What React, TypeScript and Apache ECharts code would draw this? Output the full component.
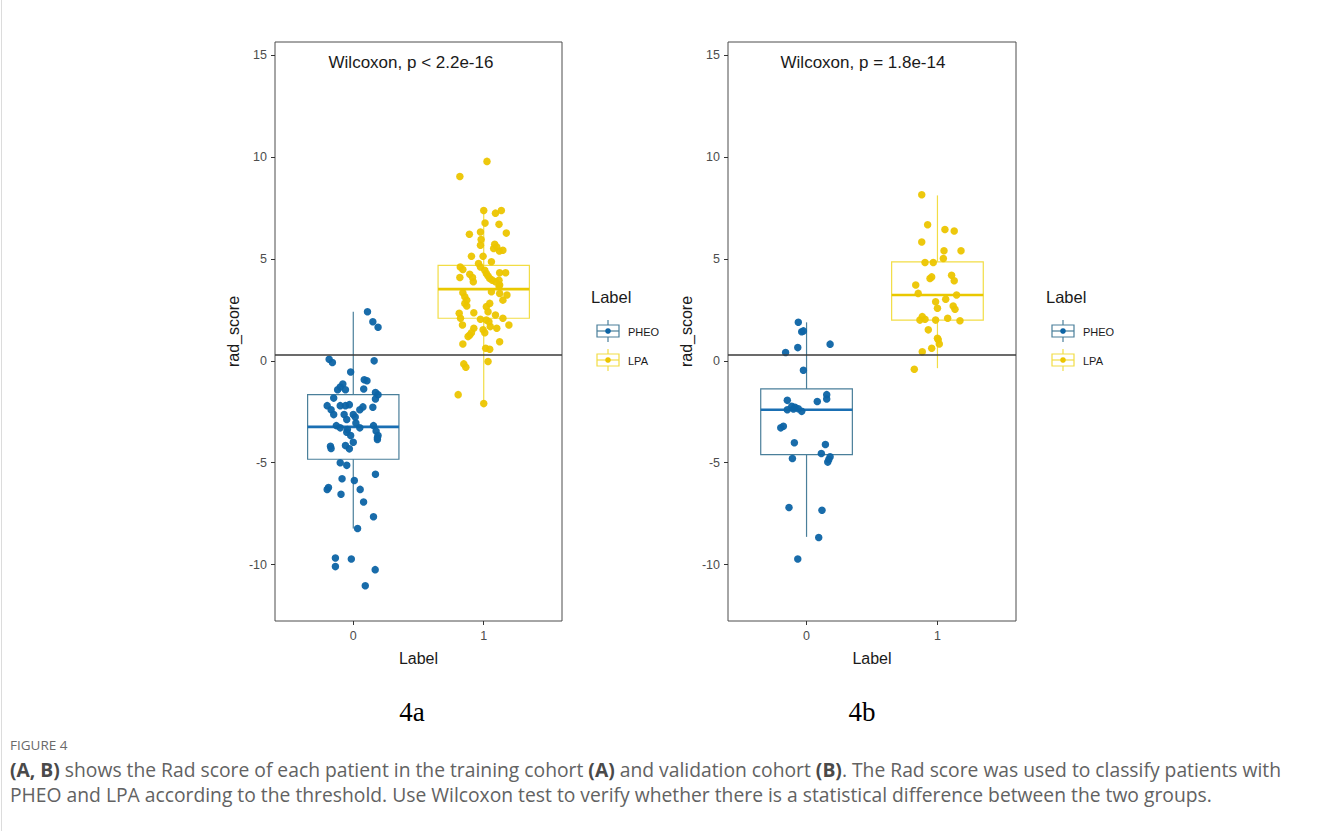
import React, { useEffect, useRef } from "react";
import * as echarts from "echarts";

// ---------- data ----------
const categories = ["0", "1"];
const yTicks = [-10, -5, 0, 5, 10, 15];
const threshold = 0.28;
const panelTitles = ["Wilcoxon, p < 2.2e-16", "Wilcoxon, p = 1.8e-14"];
const panelTags = ["4a", "4b"];
const legendNames = ["PHEO", "LPA"];

// box stats: [lower whisker, Q1, median, Q3, upper whisker]
const trainPheoBox = [-8.23, -4.83, -3.24, -1.66, 2.41];
const trainLpaBox = [-2.1, 2.09, 3.52, 4.69, 7.38];
const validPheoBox = [-8.64, -4.6, -2.4, -1.38, 1.89];
const validLpaBox = [-0.36, 2.0, 3.23, 4.86, 8.12];

// jittered points: [horizontal jitter, rad_score]
const trainPheo = [
  [0.109, 2.41], [0.15, 1.92], [0.19, 1.65], [0.16, 0.0], [-0.185, 0.08], [-0.16, -0.08],
  [-0.02, -0.55], [0.084, -0.93], [0.105, -0.98], [-0.08, -1.14], [-0.1, -1.29], [-0.06, -1.42],
  [-0.12, -1.42], [0.08, -1.38], [0.17, -1.55], [0.19, -1.66], [-0.15, -1.83], [0.17, -1.87],
  [-0.1, -2.2], [-0.06, -2.2], [-0.03, -2.15], [-0.2, -2.2], [-0.17, -2.4], [0.074, -2.26],
  [0.05, -2.4], [0.15, -2.28], [-0.07, -2.64], [-0.15, -2.64], [0.0, -2.64], [-0.05, -2.88],
  [0.015, -2.76], [0.02, -3.05], [0.05, -3.29], [-0.13, -3.18], [-0.1, -3.29], [-0.045, -3.37],
  [0.155, -3.18], [0.175, -3.45], [0.19, -3.67], [0.185, -3.78], [-0.05, -3.5], [-0.02, -3.67],
  [-0.175, -4.19], [-0.06, -4.16], [-0.03, -4.32], [0.0, -4.0], [-0.17, -4.3], [0.185, -3.86],
  [-0.1, -5.0], [-0.05, -5.13], [0.17, -5.57], [-0.086, -5.79], [0.008, -5.87], [-0.19, -6.22],
  [-0.2, -6.31], [0.053, -6.31], [-0.094, -6.55], [0.079, -6.93], [0.155, -7.65], [0.033, -8.23],
  [-0.137, -9.68], [-0.137, -10.1], [-0.015, -9.73], [0.168, -10.25], [0.092, -11.04],
];
const trainLpa = [
  [0.025, 9.79], [-0.183, 9.05], [0.0, 7.38], [0.09, 7.25], [0.135, 7.38], [0.01, 6.76],
  [0.117, 6.7], [-0.025, 6.32], [-0.11, 6.21], [0.173, 6.27], [-0.02, 5.95], [-0.025, 5.67],
  [0.084, 5.72], [0.1, 5.59], [0.12, 5.39], [0.076, 5.51], [0.147, 5.43], [-0.094, 5.13],
  [-0.005, 5.13], [0.059, 4.86], [-0.04, 4.78], [-0.025, 4.61], [-0.18, 4.61], [-0.16, 4.48],
  [0.008, 4.45], [0.02, 4.29], [0.033, 4.16], [0.046, 4.04], [0.066, 3.96], [0.122, 4.32],
  [0.168, 4.32], [-0.107, 4.25], [-0.086, 4.09], [-0.183, 4.09], [0.117, 3.96], [0.122, 3.72],
  [-0.16, 3.34], [-0.145, 3.14], [-0.13, 2.98], [-0.145, 2.82], [-0.13, 2.69], [-0.08, 3.88],
  [0.059, 3.39], [0.122, 3.31], [0.147, 2.98], [0.178, 3.23], [0.117, 3.67], [0.09, 3.88],
  [0.02, 2.66], [0.046, 2.82], [0.033, 2.41], [-0.188, 2.33], [-0.178, 2.09], [-0.163, 1.76],
  [-0.076, 2.36], [-0.025, 2.04], [0.02, 2.0], [0.04, 1.92], [0.05, 1.68], [0.09, 2.25],
  [0.147, 2.09], [0.193, 1.76], [0.1, 1.6], [-0.005, 1.52], [0.008, 1.38], [-0.076, 1.6],
  [-0.094, 1.38], [-0.107, 1.27], [-0.12, 1.19], [-0.16, 0.83], [0.122, 0.94], [0.015, 0.62],
  [0.046, 0.57], [0.033, -0.03], [-0.153, -0.15], [-0.137, -0.31], [-0.196, -1.66], [0.0, -2.1],
];
const validPheo = [
  [-0.063, 1.89], [-0.037, 1.43], [-0.024, 1.47], [-0.067, 0.65], [0.18, 0.82], [-0.16, 0.41],
  [-0.024, -0.46], [-0.147, -1.94], [0.082, -2.0], [0.154, -1.66], [0.154, -1.87], [-0.147, -2.4],
  [-0.113, -2.23], [-0.088, -2.28], [-0.063, -2.35], [-0.037, -2.48], [-0.1, -2.36], [-0.197, -3.29],
  [-0.177, -3.21], [-0.093, -4.02], [0.144, -4.11], [0.113, -4.55], [-0.108, -4.79], [0.18, -4.71],
  [0.17, -4.84], [0.162, -4.97], [-0.134, -7.2], [0.118, -7.33], [0.093, -8.67], [-0.067, -9.73],
];
const validLpa = [
  [-0.12, 8.15], [-0.075, 6.68], [0.057, 6.45], [0.128, 6.37], [-0.12, 5.83], [0.05, 5.4],
  [0.18, 5.4], [0.045, 5.02], [-0.095, 4.83], [-0.032, 4.83], [-0.057, 4.04], [-0.044, 4.12],
  [0.108, 4.2], [0.128, 3.93], [-0.166, 3.72], [-0.147, 3.31], [-0.014, 2.9], [0.063, 3.02],
  [0.146, 3.23], [0.0, 2.58], [0.12, 2.69], [0.134, 2.53], [-0.116, 2.17], [-0.134, 2.0],
  [-0.095, 2.04], [-0.014, 2.0], [0.078, 2.09], [0.172, 1.97], [-0.07, 1.52], [0.0, 1.11],
  [0.006, 1.03], [0.014, 0.83], [-0.044, 0.62], [-0.116, 0.45], [-0.177, -0.41],
];

const captionLine1 =
  "{b|(A, B)} shows the Rad score of each patient in the training cohort {b|(A)} and validation cohort {b|(B)}. The Rad score was used to classify patients with";
const captionLine2 =
  "PHEO and LPA according to the threshold. Use Wilcoxon test to verify whether there is a statistical difference between the two groups.";

// ---------- styling ----------
const SANS = "'Liberation Sans', Arial, sans-serif";
const CAP = "'Open Sans', sans-serif";
const BLUE_PT = "#0d64a5";
const BLUE_BOX = "#4a7f9a";
const BLUE_MED = "#1a6fb3";
const YEL_PT = "#ecc500";
const YEL_BOX = "#f2dd45";
const YEL_MED = "#e9c800";

const grids = [
  { left: 275, top: 42, width: 287, height: 579 },
  { left: 728, top: 42, width: 288, height: 579 },
];

function boxSeries(panel: number, cat: number, stats: number[], boxColor: string, medColor: string) {
  return {
    type: "custom",
    xAxisIndex: panel,
    yAxisIndex: panel,
    z: 1,
    silent: true,
    data: [[cat, ...stats]],
    encode: { x: 0, y: [1, 2, 3, 4, 5] },
    renderItem: (params: any, api: any) => {
      const x = api.value(0);
      const lo = api.value(1), q1 = api.value(2), med = api.value(3), q3 = api.value(4), hi = api.value(5);
      const hw = 0.35;
      const tl = api.coord([x - hw, q3]);
      const br = api.coord([x + hw, q1]);
      const ml = api.coord([x - hw, med]);
      const mr = api.coord([x + hw, med]);
      const pHi = api.coord([x, hi]);
      const pQ3 = api.coord([x, q3]);
      const pQ1 = api.coord([x, q1]);
      const pLo = api.coord([x, lo]);
      return {
        type: "group",
        children: [
          { type: "line", shape: { x1: pHi[0], y1: pHi[1], x2: pQ3[0], y2: pQ3[1] }, style: { stroke: boxColor, lineWidth: 1.2 } },
          { type: "line", shape: { x1: pQ1[0], y1: pQ1[1], x2: pLo[0], y2: pLo[1] }, style: { stroke: boxColor, lineWidth: 1.2 } },
          { type: "rect", shape: { x: tl[0], y: tl[1], width: br[0] - tl[0], height: br[1] - tl[1] }, style: { fill: "none", stroke: boxColor, lineWidth: 1.2 } },
          { type: "line", shape: { x1: ml[0], y1: ml[1], x2: mr[0], y2: mr[1] }, style: { stroke: medColor, lineWidth: 2.6 } },
        ],
      };
    },
  };
}

function pointSeries(panel: number, cat: number, pts: number[][], color: string, name: string, withLine: boolean) {
  const s: any = {
    type: "scatter",
    name,
    xAxisIndex: panel,
    yAxisIndex: panel,
    z: 3,
    symbolSize: 7.5,
    itemStyle: { color, opacity: 0.95 },
    data: pts.map(([j, v]) => [cat + j, v]),
  };
  if (withLine) {
    s.markLine = {
      silent: true,
      symbol: "none",
      label: { show: false },
      lineStyle: { color: "#3a3a3a", width: 1.6, type: "solid" },
      data: [{ yAxis: threshold }],
    };
  }
  return s;
}

function legendGlyph(cx: number, cy: number, boxColor: string, dotColor: string) {
  return [
    { type: "line", shape: { x1: cx, y1: cy - 11, x2: cx, y2: cy + 11 }, style: { stroke: boxColor, lineWidth: 1.2 } },
    { type: "rect", shape: { x: cx - 11, y: cy - 6, width: 22, height: 12 }, style: { fill: "#fff", stroke: boxColor, lineWidth: 1.2 } },
    { type: "line", shape: { x1: cx - 11, y1: cy, x2: cx + 11, y2: cy }, style: { stroke: boxColor, lineWidth: 1.2 } },
    { type: "circle", shape: { cx, cy, r: 2.8 }, style: { fill: dotColor } },
  ];
}

function legendBlock(x: number) {
  return [
    { type: "text", x, y: 297, style: { text: "Label", font: `16.5px ${SANS}`, fill: "#1a1a1a", align: "left", verticalAlign: "middle" } },
    ...legendGlyph(x + 17, 331, BLUE_BOX, BLUE_PT),
    { type: "text", x: x + 37, y: 332, style: { text: legendNames[0], font: `11px ${SANS}`, fill: "#1a1a1a", align: "left", verticalAlign: "middle" } },
    ...legendGlyph(x + 17, 360, YEL_BOX, YEL_PT),
    { type: "text", x: x + 37, y: 361, style: { text: legendNames[1], font: `11px ${SANS}`, fill: "#1a1a1a", align: "left", verticalAlign: "middle" } },
  ];
}

export default function App() {
  const ref = useRef<HTMLDivElement>(null);
  useEffect(() => {
    if (!ref.current) return;
    const chart = echarts.init(ref.current, null, { renderer: "svg" });
    const option: any = {
      animation: false,
      backgroundColor: "#ffffff",
      grid: grids.map((g) => ({ ...g, show: true, borderColor: "#4d4d4d", borderWidth: 1, backgroundColor: "transparent" })),
      xAxis: [0, 1].map((i) => ({
        type: "value",
        gridIndex: i,
        position: "bottom",
        min: -0.6,
        max: 1.6,
        name: "Label",
        nameLocation: "middle",
        nameGap: 29,
        nameTextStyle: { fontSize: 16, color: "#1a1a1a", fontFamily: SANS },
        axisLine: { show: false, onZero: false },
        axisTick: { show: true, length: 4, lineStyle: { color: "#333" }, customValues: [0, 1] },
        axisLabel: {
          customValues: [0, 1],
          formatter: (v: number) => categories[Math.round(v)],
          margin: 8,
          fontSize: 12.5,
          color: "#4d4d4d",
          fontFamily: SANS,
        },
        splitLine: { show: false },
      })),
      yAxis: [0, 1].map((i) => ({
        type: "value",
        gridIndex: i,
        position: "left",
        min: -12.77,
        max: 15.65,
        name: "rad_score",
        nameLocation: "middle",
        nameRotate: 90,
        nameGap: 34,
        nameTextStyle: { fontSize: 16, color: "#1a1a1a", fontFamily: SANS },
        axisLine: { show: false, onZero: false },
        axisTick: { show: true, length: 4, lineStyle: { color: "#333" }, customValues: yTicks },
        axisLabel: { customValues: yTicks, margin: 8, fontSize: 12.5, color: "#4d4d4d", fontFamily: SANS },
        splitLine: { show: false },
      })),
      series: [
        boxSeries(0, 0, trainPheoBox, BLUE_BOX, BLUE_MED),
        boxSeries(0, 1, trainLpaBox, YEL_BOX, YEL_MED),
        boxSeries(1, 0, validPheoBox, BLUE_BOX, BLUE_MED),
        boxSeries(1, 1, validLpaBox, YEL_BOX, YEL_MED),
        pointSeries(0, 0, trainPheo, BLUE_PT, "PHEO", true),
        pointSeries(0, 1, trainLpa, YEL_PT, "LPA", false),
        pointSeries(1, 0, validPheo, BLUE_PT, "PHEO", true),
        pointSeries(1, 1, validLpa, YEL_PT, "LPA", false),
      ],
      graphic: [
        { type: "line", shape: { x1: 1.5, y1: 0, x2: 1.5, y2: 831 }, style: { stroke: "#dcdcdc", lineWidth: 1 } },
        { type: "text", x: 411, y: 62, style: { text: panelTitles[0], font: `17px ${SANS}`, fill: "#1a1a1a", align: "center", verticalAlign: "middle" } },
        { type: "text", x: 863, y: 62, style: { text: panelTitles[1], font: `17px ${SANS}`, fill: "#1a1a1a", align: "center", verticalAlign: "middle" } },
        ...legendBlock(591),
        ...legendBlock(1046),
        { type: "text", x: 412, y: 712, style: { text: panelTags[0], font: `27px 'Liberation Serif', 'Times New Roman', serif`, fill: "#000", align: "center", verticalAlign: "middle" } },
        { type: "text", x: 862, y: 712, style: { text: panelTags[1], font: `27px 'Liberation Serif', 'Times New Roman', serif`, fill: "#000", align: "center", verticalAlign: "middle" } },
        { type: "text", x: 10, y: 745, style: { text: "FIGURE 4", font: `13.5px ${CAP}`, fill: "#6a6a6a", align: "left", verticalAlign: "middle" } },
        {
          type: "text",
          x: 10,
          y: 769,
          style: {
            text: captionLine1,
            font: `19.3px ${CAP}`,
            fill: "#626262",
            align: "left",
            verticalAlign: "middle",
            rich: {
              b: { fontWeight: "bold", fontSize: 19.3, fontFamily: CAP, fill: "#4a4a4a" },
            },
          },
        },
        { type: "text", x: 10, y: 794, style: { text: captionLine2, font: `19.3px ${CAP}`, fill: "#626262", align: "left", verticalAlign: "middle" } },
      ],
    };
    chart.setOption(option);
    return () => chart.dispose();
  }, []);
  return <div ref={ref} style={{ position: "absolute", left: 0, top: 0, width: 1328, height: 831, background: "#fff" }} />;
}
